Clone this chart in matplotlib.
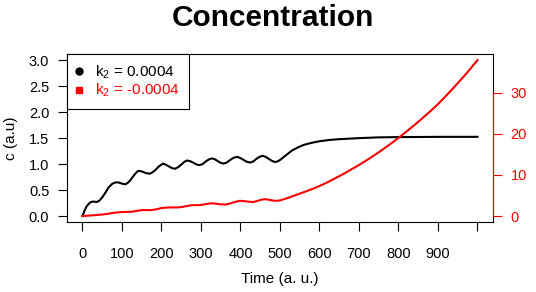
import matplotlib
matplotlib.use("Agg")
import matplotlib.pyplot as plt
from matplotlib.lines import Line2D

plt.rcParams['font.family'] = ['Liberation Sans', 'DejaVu Sans']

# black curve, k2 = 0.0004 (left axis)
t_black = [0, 5, 10, 15, 21, 28, 35, 42, 50, 58, 66, 75, 84, 92, 100, 108, 114,
           120, 127, 134, 141, 148, 155, 162, 170, 177, 185, 194, 204, 212, 219,
           226, 234, 242, 250, 258, 265, 273, 280, 288, 296, 304, 312, 320, 328,
           335, 342, 350, 357, 365, 374, 382, 391, 399, 408, 416, 425, 432, 440,
           448, 456, 464, 472, 480, 488, 495, 502, 510, 520, 530, 545, 560, 580,
           600, 625, 650, 700, 750, 800, 900, 1000]
c_black = [0.0, 0.10, 0.18, 0.23, 0.27, 0.28, 0.27, 0.29, 0.36, 0.45, 0.55, 0.62,
           0.65, 0.645, 0.625, 0.61, 0.635, 0.68, 0.75, 0.82, 0.87, 0.865, 0.845,
           0.825, 0.815, 0.84, 0.89, 0.96, 1.01, 0.985, 0.955, 0.925, 0.91, 0.94,
           0.99, 1.045, 1.07, 1.055, 1.03, 0.995, 0.98, 1.0, 1.05, 1.09, 1.11,
           1.095, 1.06, 1.025, 1.01, 1.03, 1.08, 1.12, 1.14, 1.12, 1.08, 1.045,
           1.03, 1.05, 1.10, 1.14, 1.16, 1.14, 1.10, 1.06, 1.04, 1.055, 1.09,
           1.14, 1.20, 1.26, 1.32, 1.37, 1.41, 1.44, 1.465, 1.48, 1.50, 1.515,
           1.52, 1.525, 1.525]

# red curve, k2 = -0.0004 (right axis)
t_red = [0, 15, 30, 48, 65, 80, 95, 110, 125, 140, 151, 162, 175, 190, 200, 212,
         225, 240, 252, 265, 278, 290, 300, 315, 328, 338, 350, 362, 372, 385,
         398, 407, 420, 432, 440, 452, 461, 470, 480, 490, 500, 520, 540, 560,
         580, 600, 620, 640, 660, 680, 700, 725, 750, 775, 800, 825, 850, 875,
         900, 925, 950, 975, 1000]
c_red = [0, 0.1, 0.2, 0.35, 0.55, 0.8, 0.95, 1.0, 1.05, 1.3, 1.45, 1.45, 1.45,
         1.7, 1.95, 2.05, 2.1, 2.1, 2.2, 2.45, 2.65, 2.65, 2.7, 2.95, 3.1, 3.0,
         2.85, 2.8, 3.0, 3.4, 3.7, 3.65, 3.5, 3.4, 3.6, 3.95, 4.1, 4.0, 3.8, 3.7,
         3.8, 4.4, 5.1, 5.8, 6.5, 7.3, 8.2, 9.2, 10.2, 11.3, 12.4, 13.9, 15.5,
         17.2, 19.0, 20.9, 22.9, 25.0, 27.2, 29.7, 32.3, 35.0, 37.9]

x_ticks = list(range(0, 1001, 100))
x_labels = [str(v) for v in range(0, 901, 100)] + [""]
left_ticks = [0.0, 0.5, 1.0, 1.5, 2.0, 2.5, 3.0]
right_ticks = [0, 10, 20, 30]
labels = [r"$\mathregular{k_2}$ = 0.0004", r"$\mathregular{k_2}$ = -0.0004"]

fig = plt.figure(figsize=(5.36, 2.92), dpi=100)
ax = fig.add_axes([0.1244, 0.2387, 0.7959, 0.5764])
ax.plot(t_black, c_black, color="black", lw=1.5)
ax.set_xlim(-40, 1040)
ax.set_ylim(-0.12, 3.12)
ax.set_xticks(x_ticks)
ax.set_xticklabels(x_labels)
ax.set_yticks(left_ticks)
ax.set_yticklabels(["%.1f" % v for v in left_ticks])
ax.tick_params(axis="x", length=6.5, width=0.8, pad=11, labelsize=10.5)
ax.tick_params(axis="y", length=6.5, width=0.8, pad=6, labelsize=10.5)
for s in ax.spines.values():
    s.set_linewidth(0.8)
ax.set_xlabel("Time (a. u.)", fontsize=11, labelpad=8)
ax.set_ylabel("c (a.u)", fontsize=11, labelpad=8)

ax2 = ax.twinx()
ax2.plot(t_red, c_red, color="red", lw=1.5)
ax2.set_ylim(-1.52, 39.4)
ax2.set_yticks(right_ticks)
for name in ["top", "bottom", "left"]:
    ax2.spines[name].set_visible(False)
ax2.spines["right"].set_bounds(0, 30)
ax2.spines["right"].set_color("red")
ax2.spines["right"].set_linewidth(0.8)
ax2.tick_params(axis="y", colors="red", length=6.5, width=0.8, pad=6, labelsize=10.5)

handles = [Line2D([], [], ls="none", marker="o", color="black", markersize=5),
           Line2D([], [], ls="none", marker="s", color="red", markersize=5)]
leg = ax2.legend(handles, labels, loc="upper left", bbox_to_anchor=(0, 1),
                 borderaxespad=0, fancybox=False, edgecolor="black", framealpha=1,
                 fontsize=11, handlelength=0.4, handletextpad=0.85,
                 borderpad=0.62, labelspacing=0.08)
leg.get_frame().set_linewidth(0.8)
leg.get_texts()[1].set_color("red")

fig.text(0.509, 0.94, "Concentration", ha="center", va="center",
         fontsize=21.5, fontweight="bold")

fig.savefig("out.png", dpi=100)
